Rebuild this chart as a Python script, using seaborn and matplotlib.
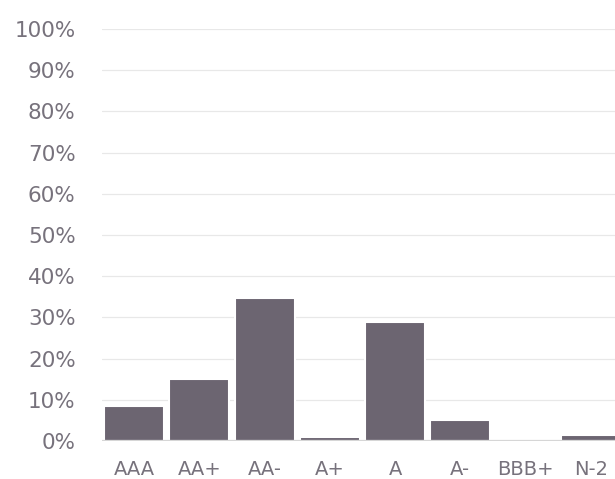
import matplotlib
matplotlib.use("Agg")
import matplotlib.pyplot as plt
import matplotlib.ticker as ticker
import seaborn as sns
import pandas as pd

ratings = ['AAA', 'AA+', 'AA-', 'A+', 'A', 'A-', 'BBB+', 'N-2']
shares = [8.4, 15.0, 34.7, 0.9, 29.0, 5.0, 0.0, 1.5]
y_ticks = list(range(0, 101, 10))

df = pd.DataFrame({'rating': ratings, 'share': shares})

sns.set_theme(style="white")
plt.rcParams['font.family'] = ['DejaVu Sans']

bar_color = '#6c6571'
text_color = '#77727c'

fig = plt.figure(figsize=(6.15, 4.79), dpi=100)
ax = fig.add_axes([0.166, 0.0793, 0.834, 0.8602])

ax.yaxis.grid(True, color='#e8e8e8', linewidth=0.9)
ax.set_axisbelow(True)

sns.barplot(data=df, x='rating', y='share', color=bar_color, saturation=1,
            width=0.92, edgecolor='white', linewidth=1.5, ax=ax)

ax.axhline(0, color='#d6d6d6', linewidth=1.6, zorder=3)

ax.set_ylim(0, 100)
ax.set_xlim(-0.49, 7.37)
ax.set_yticks(y_ticks)
ax.yaxis.set_major_formatter(ticker.FuncFormatter(lambda v, p: f'{v:.0f}%'))

ax.set_xlabel('')
ax.set_ylabel('')
for s in ax.spines.values():
    s.set_visible(False)

ax.tick_params(axis='y', length=0, pad=19, labelsize=15.5, labelcolor=text_color)
ax.tick_params(axis='x', length=0, pad=13.5, labelsize=14, labelcolor=text_color)

fig.savefig('out.png', dpi=100)
